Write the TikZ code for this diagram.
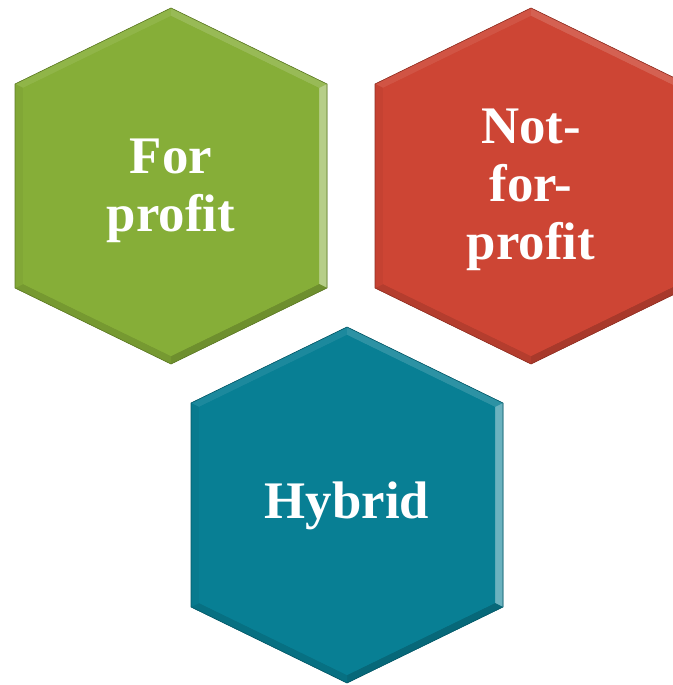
\documentclass[tikz,border=0pt]{standalone}
\usepackage{fontspec}
\setmainfont{Liberation Serif}
\definecolor{hgreen}{RGB}{134,174,56}
\definecolor{hred}{RGB}{205,69,52}
\definecolor{hteal}{RGB}{8,127,148}
\tikzset{
  hexlabel/.style={text=white, align=center, font=\fontsize{53}{58}\selectfont\bfseries, inner sep=0pt},
}
% #1 cx, #2 cy, #3 colour, #4 name
\newcommand{\bevelhex}[4]{%
  \path (#1,#2) coordinate (#4c)
    (#1,#2-178) coordinate (#4T)
    (#1+156,#2-102) coordinate (#4UR)
    (#1+156,#2+102) coordinate (#4LR)
    (#1,#2+178) coordinate (#4B)
    (#1-156,#2+102) coordinate (#4LL)
    (#1-156,#2-102) coordinate (#4UL)
    (#1,#2-170) coordinate (#4iT)
    (#1+148,#2-98) coordinate (#4iUR)
    (#1+148,#2+98) coordinate (#4iLR)
    (#1,#2+170) coordinate (#4iB)
    (#1-148,#2+98) coordinate (#4iLL)
    (#1-148,#2-98) coordinate (#4iUL);
  % shadow
  \fill[black, opacity=0.10, shift={(4,6)}] (#4T) -- (#4UR) -- (#4LR) -- (#4B) -- (#4LL) -- (#4UL) -- cycle;
  \fill[black, opacity=0.15, shift={(2,3)}] (#4T) -- (#4UR) -- (#4LR) -- (#4B) -- (#4LL) -- (#4UL) -- cycle;
  % base
  \fill[#3] (#4T) -- (#4UR) -- (#4LR) -- (#4B) -- (#4LL) -- (#4UL) -- cycle;
  % facets
  \fill[#3!92!white] (#4T) -- (#4UL) -- (#4iUL) -- (#4iT) -- cycle;
  \fill[#3!85!white] (#4T) -- (#4UR) -- (#4iUR) -- (#4iT) -- cycle;
  \fill[#3!60!white] (#4UR) -- (#4LR) -- (#4iLR) -- (#4iUR) -- cycle;
  \fill[#3!82!black] (#4LR) -- (#4B) -- (#4iB) -- (#4iLR) -- cycle;
  \fill[#3!88!black] (#4B) -- (#4LL) -- (#4iLL) -- (#4iB) -- cycle;
  \fill[#3!96!black] (#4LL) -- (#4UL) -- (#4iUL) -- (#4iLL) -- cycle;
  \fill[#3] (#4iT) -- (#4iUR) -- (#4iLR) -- (#4iB) -- (#4iLL) -- (#4iUL) -- cycle;
  \draw[#3!70!black, line width=0.6bp, line join=round] (#4T) -- (#4UR) -- (#4LR) -- (#4B) -- (#4LL) -- (#4UL) -- cycle;
}
\begin{document}
\begin{tikzpicture}[x=1bp, y=-1bp]
  \useasboundingbox (0,0) rectangle (673,685);
  \clip (0,0) rectangle (673,685);
  \fill[white] (0,0) rectangle (673,685);
  \bevelhex{171}{186}{hgreen}{g}
  \bevelhex{531}{186}{hred}{r}
  \bevelhex{347}{505}{hteal}{t}
  \node[hexlabel] (forprofit) at (171,191) {For\\profit};
  \node[hexlabel] (notforprofit) at (531,190) {Not-\\for-\\profit};
  \node[hexlabel] (hybrid) at (347,506) {Hybrid};
\end{tikzpicture}
\end{document}
